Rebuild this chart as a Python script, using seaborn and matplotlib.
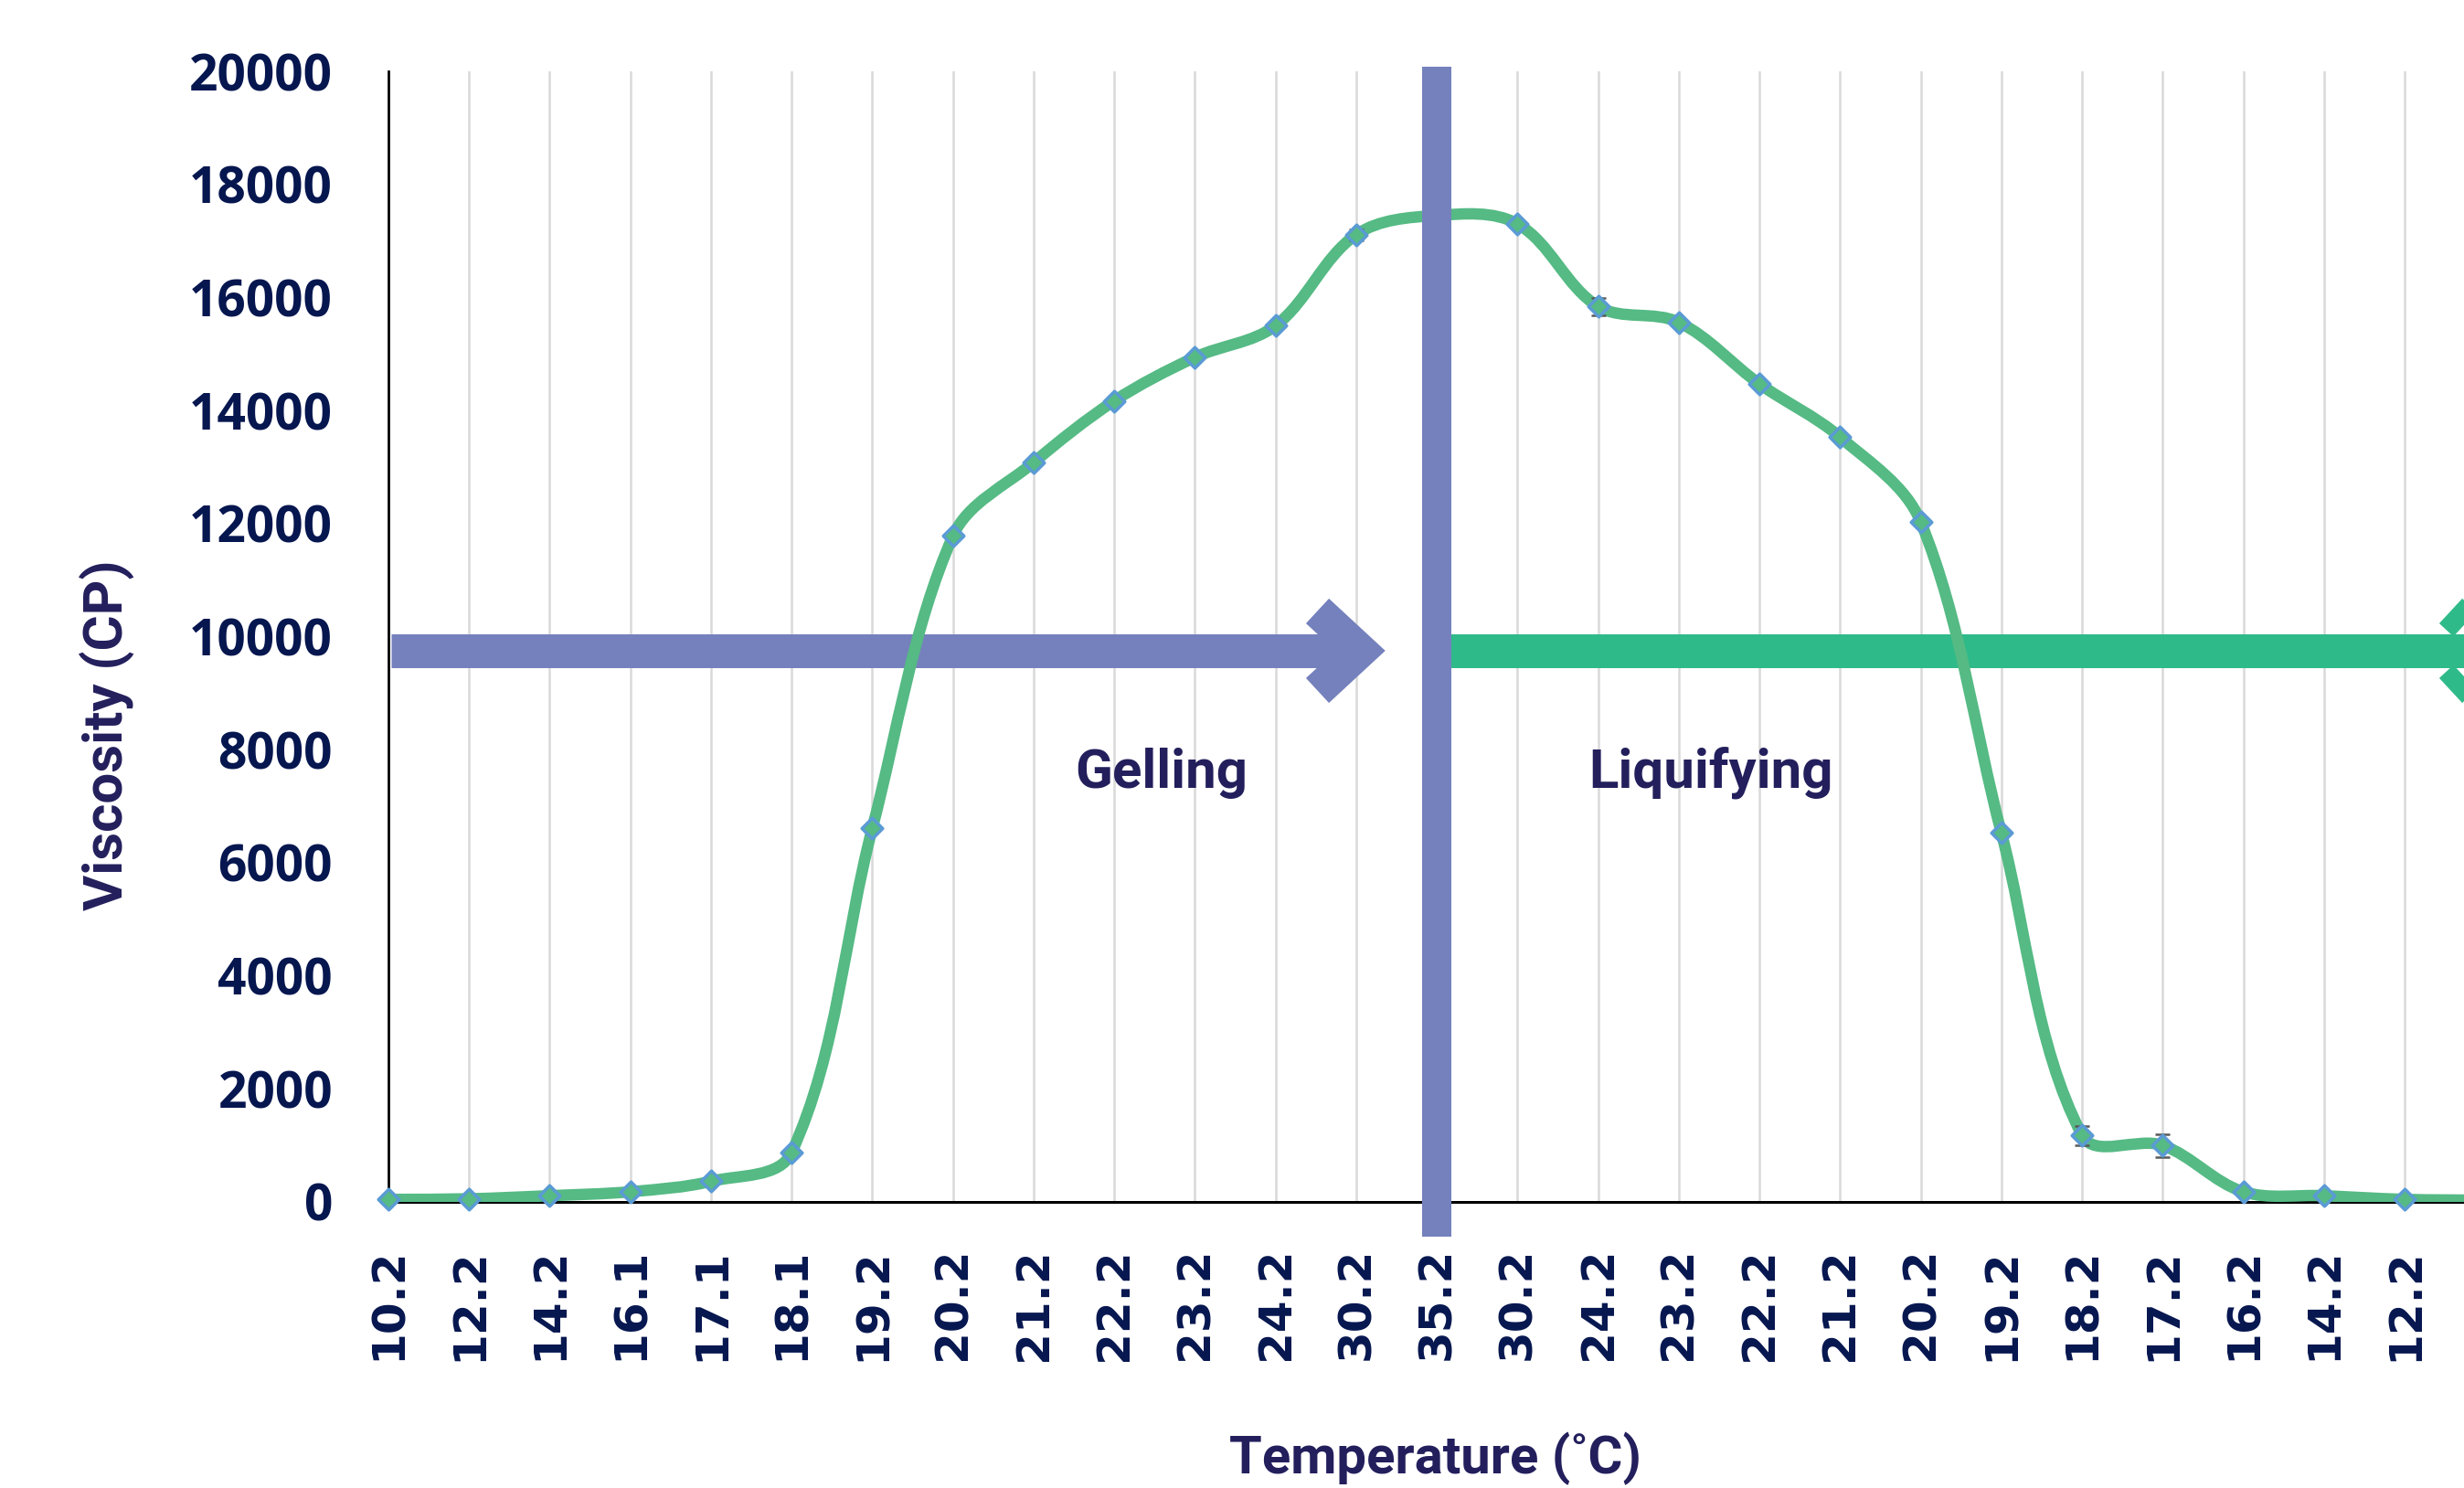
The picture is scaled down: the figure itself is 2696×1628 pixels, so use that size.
import numpy as np
import pandas as pd
import matplotlib
matplotlib.use('Agg')
import matplotlib.pyplot as plt
from matplotlib.path import Path
from matplotlib.patches import PathPatch
import seaborn as sns

sns.set_style("white")

# temperature steps (heating up to 35.2, then cooling back down)
temps = ['10.2', '12.2', '14.2', '16.1', '17.1', '18.1', '19.2', '20.2', '21.2',
         '22.2', '23.2', '24.2', '30.2', '35.2', '30.2', '24.2', '23.2', '22.2',
         '21.2', '20.2', '19.2', '18.2', '17.2', '16.2', '14.2', '12.2', '10.2']
viscosity = [45, 55, 110, 180, 365, 875, 6610, 11780, 13080, 14170, 14940, 15500,
             17110, 17450, 17300, 15840, 15560, 14470, 13530, 12030, 6530, 1180,
             1000, 180, 110, 45, 30]
errors = [0, 0, 0, 0, 0, 0, 0, 0, 0, 0, 0, 0, 100, 0, 0, 150, 0, 0, 0, 0, 0, 170,
          200, 0, 0, 0, 0]
yticks = [0, 2000, 4000, 6000, 8000, 10000, 12000, 14000, 16000, 18000, 20000]
phases = ['Gelling', 'Liquifying']

df = pd.DataFrame({'idx': np.arange(len(temps)), 'Viscosity': viscosity})

line_green = '#55BA84'
arrow_green = '#2FBA8A'
purple = '#7581BD'
marker_blue = '#5B9BD5'
tick_navy = '#06164F'
title_navy = '#231F5C'
narrow = ['Roboto', 'DejaVu Sans']

W, H, DPI = 26.96, 16.28, 100
fig = plt.figure(figsize=(W, H), dpi=DPI)
ax = fig.add_axes([425 / 2696, 1 - 1315 / 1628, 1 - 425 / 2696, (1315 - 78) / 1628])

# px -> data unit conversions
px_x = 1 / 88.24
px_y = 20000 / (1315 - 78)
x_max = (2696 - 425) * px_x


def pt(px):
    return px * 72 / DPI


# smoothed line like Excel: bezier with chord-scaled tangents (computed in pixel space)
P = np.column_stack([df['idx'].to_numpy(float) / px_x, df['Viscosity'].to_numpy(float) / px_y])
n = len(P)
tang = []
for i in range(n):
    d = P[min(i + 1, n - 1)] - P[max(i - 1, 0)]
    tang.append(d / np.linalg.norm(d))
verts = [tuple(P[0])]
codes = [Path.MOVETO]
for i in range(n - 1):
    seg = np.linalg.norm(P[i + 1] - P[i]) / 3
    c1 = P[i] + tang[i] * seg
    c2 = P[i + 1] - tang[i + 1] * seg
    verts += [tuple(c1), tuple(c2), tuple(P[i + 1])]
    codes += [Path.CURVE4] * 3
verts = [(vx * px_x, vy * px_y) for vx, vy in verts]
ax.add_patch(PathPatch(Path(verts, codes), facecolor='none', edgecolor=line_green,
                       lw=pt(12.5), capstyle='round', joinstyle='round', zorder=3))

# small error bars
mask = np.array(errors) > 0
ax.errorbar(df['idx'][mask], df['Viscosity'][mask], yerr=np.array(errors)[mask],
            fmt='none', ecolor='#595959', elinewidth=pt(2.5), capsize=pt(8),
            capthick=pt(2.5), zorder=3.5)

sns.scatterplot(data=df, x='idx', y='Viscosity', marker='D', s=pt(16) ** 2,
                color=line_green, edgecolor=marker_blue, linewidth=pt(3.5),
                clip_on=False, zorder=4, ax=ax, legend=False)

# phase arrows
arrow_y = 9750
shaft_w = pt(37)
head_dx = 47 * px_x
head_dy = 43.5 * px_y


def draw_arrow(x0, x_vertex, color):
    ax.plot([x0, x_vertex], [arrow_y, arrow_y], color=color, lw=shaft_w,
            solid_capstyle='butt', clip_on=False, zorder=2)
    ax.plot([x_vertex - head_dx, x_vertex, x_vertex - head_dx],
            [arrow_y + head_dy, arrow_y, arrow_y - head_dy], color=color, lw=shaft_w,
            solid_capstyle='butt', solid_joinstyle='miter', clip_on=False, zorder=2)


draw_arrow(3 * px_x, (1488.5 - 425) * px_x, purple)
draw_arrow((1587 - 425) * px_x, (2728.5 - 425) * px_x, arrow_green)

# vertical divider at the peak temperature
ax.plot([13, 13], [(1315 - 1353) * px_y, (1315 - 73) * px_y], color=purple, lw=pt(32),
        solid_capstyle='butt', clip_on=False, zorder=5)

ax.text((1271 - 425) * px_x, (1315 - 862) * px_y, phases[0], ha='center', va='baseline',
        fontsize=pt(60), fontweight='bold', color=title_navy, family=narrow, zorder=6)
ax.text((1872 - 425) * px_x, (1315 - 862) * px_y, phases[1], ha='center', va='baseline',
        fontsize=pt(60), fontweight='bold', color=title_navy, family=narrow, zorder=6)

# axes styling
ax.set_xticks(df['idx'][df['idx'] <= x_max])
ax.set_xticklabels([t for i, t in enumerate(temps) if i <= x_max], rotation=90,
                   fontsize=pt(50), fontweight='bold', color=tick_navy, family='DejaVu Sans')
ax.set_yticks(yticks)
ax.set_yticklabels([str(v) for v in yticks], fontsize=pt(55), fontweight='bold',
                   color=tick_navy, family=['Open Sans', 'DejaVu Sans'])
ax.tick_params(axis='x', length=0, pad=pt(50))
ax.tick_params(axis='y', length=0, pad=pt(61))
ax.set_xlabel('')
ax.set_ylabel('')

ax.xaxis.grid(True, color='#D9D9D9', lw=pt(2.5))
ax.yaxis.grid(False)
ax.set_axisbelow(True)
for s in ['top', 'right']:
    ax.spines[s].set_visible(False)
ax.spines['left'].set_color('black')
ax.spines['left'].set_linewidth(pt(2.7))
ax.spines['bottom'].set_color('black')
ax.spines['bottom'].set_linewidth(pt(3))

ax.set_xlim(0, x_max)
ax.set_ylim(0, 20000)

fig.text(117.5 / 2696, 1 - 804 / 1628, 'Viscosity (CP)', rotation=90, ha='center',
         va='center', fontsize=pt(60), fontweight='bold', color=title_navy, family=narrow)
fig.text(1570 / 2696, 1 - 1612 / 1628, 'Temperature (˚C)', ha='center', va='baseline',
         fontsize=pt(58), fontweight='bold', color=title_navy, family=narrow)

fig.savefig('out.png', dpi=DPI)
